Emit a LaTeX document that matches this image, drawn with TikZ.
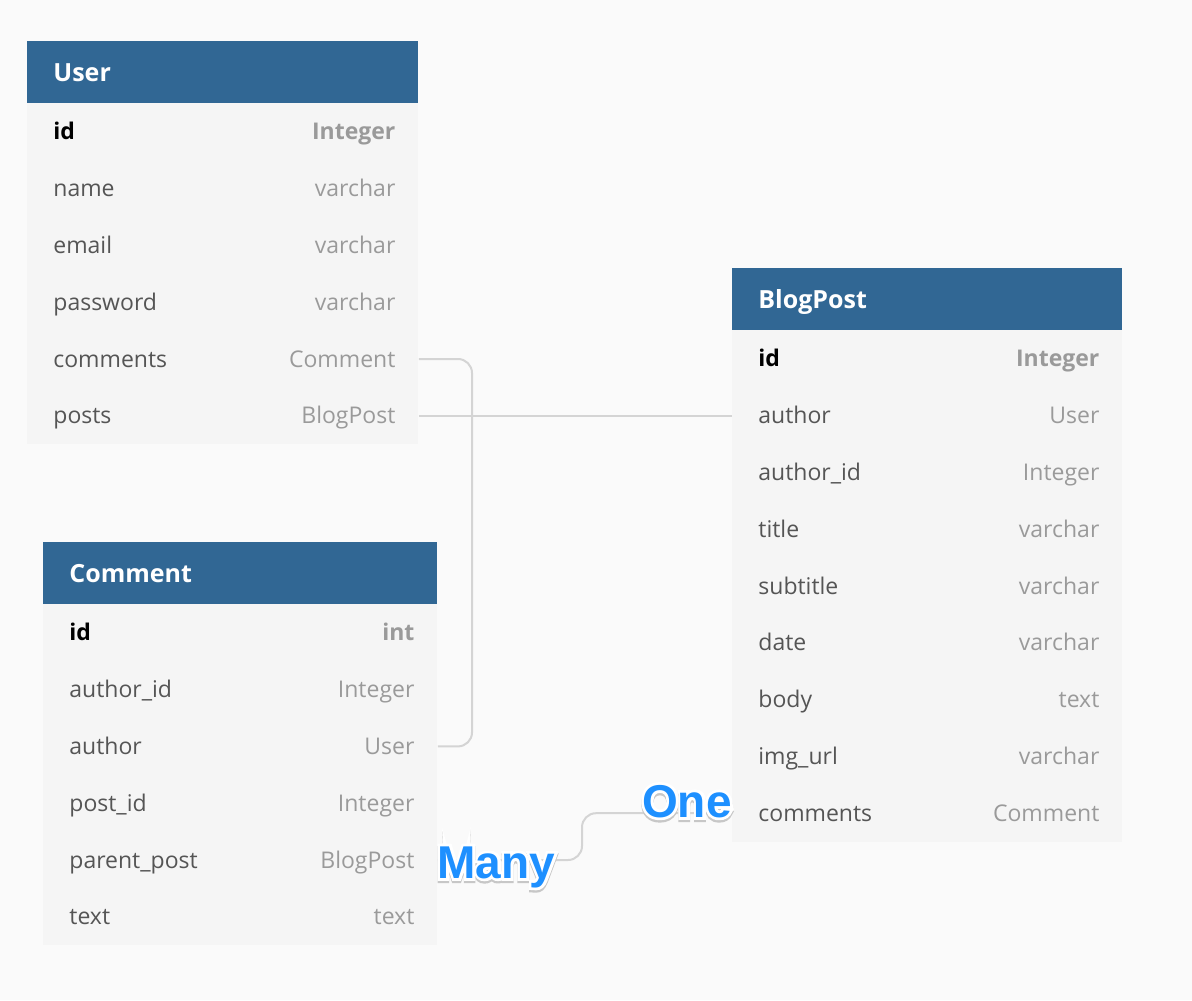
\documentclass[tikz,border=0pt]{standalone}
\usepackage{fontspec}
\setmainfont{Open Sans}
\newfontfamily\tagfamily{Liberation Sans Bold}
\newfontfamily\tagrim[FakeBold=12]{Liberation Sans Bold}
\usepackage{tikz}
\usetikzlibrary{positioning,calc}

\definecolor{headblue}{HTML}{316794}
\definecolor{rowgray}{HTML}{F5F5F5}
\definecolor{pagegray}{HTML}{FAFAFA}
\definecolor{fieldgray}{HTML}{555555}
\definecolor{typegray}{HTML}{9A9A9A}
\definecolor{linkgray}{HTML}{D4D4D4}
\definecolor{tagblue}{HTML}{1E90FF}

\tikzset{
  head/.style={fill=headblue, minimum height=31pt, inner sep=0pt, anchor=north west},
  headtext/.style={text=white, font=\bfseries\fontsize{12.5}{15}\selectfont, inner sep=0pt, text height=10pt, text depth=1pt, anchor=west},
  row/.style={fill=rowgray, minimum height=28.4pt, inner sep=0pt, anchor=north west},
  field/.style={text=fieldgray, font=\fontsize{11.5}{14}\selectfont, inner sep=0pt, text height=10pt, text depth=2pt, anchor=west},
  ftype/.style={field, text=typegray, anchor=east},
  keyfield/.style={field, text=black, font=\bfseries\fontsize{11.5}{14}\selectfont},
  keytype/.style={ftype, font=\bfseries\fontsize{11.5}{14}\selectfont},
  link/.style={draw=linkgray, line width=1pt, rounded corners=7pt},
  tag/.style={font=\tagfamily\fontsize{23}{26}\selectfont, inner sep=0pt, text=tagblue},
  tagedge/.style={tag, font=\tagrim\fontsize{23}{26}\selectfont, text=white}
}

\begin{document}
\begin{tikzpicture}[x=0.5pt,y=-0.5pt]
  \path[use as bounding box, fill=pagegray] (0,0) rectangle (1192,1000);

  % User table
  \node (user) [head, minimum width=195.5pt] at (27,41) {};
  \node (user-name) [headtext] at ($(user.west)+(26,0)$) {User};
  \node (user-1) [row, minimum width=195.5pt] at (27,103) {};
  \node (user-1-f) [keyfield] at ($(user-1.west)+(26,0)$) {id};
  \node (user-1-t) [keytype] at ($(user-1.east)+(-23,0)$) {Integer};
  \foreach \f/\t [count=\i from 2] in {name/varchar, email/varchar, password/varchar, comments/Comment, posts/BlogPost} {
    \node (user-\i) [row, minimum width=195.5pt] at (27,{103+56.8*(\i-1)}) {};
    \node (user-\i-f) [field] at ($(user-\i.west)+(26,0)$) {\f};
    \node (user-\i-t) [ftype] at ($(user-\i.east)+(-23,0)$) {\t};
  }

  % BlogPost table
  \node (post) [head, minimum width=195pt] at (732,268) {};
  \node (post-name) [headtext] at ($(post.west)+(26,0)$) {BlogPost};
  \node (post-1) [row, minimum width=195pt] at (732,330) {};
  \node (post-1-f) [keyfield] at ($(post-1.west)+(26,0)$) {id};
  \node (post-1-t) [keytype] at ($(post-1.east)+(-23,0)$) {Integer};
  \foreach \f/\t [count=\i from 2] in {author/User, author\_id/Integer, title/varchar, subtitle/varchar, date/varchar, body/text, img\_url/varchar, comments/Comment} {
    \node (post-\i) [row, minimum width=195pt] at (732,{330+56.8*(\i-1)}) {};
    \node (post-\i-f) [field] at ($(post-\i.west)+(26,0)$) {\f};
    \node (post-\i-t) [ftype] at ($(post-\i.east)+(-23,0)$) {\t};
  }

  % Comment table
  \node (comment) [head, minimum width=197pt] at (43,542) {};
  \node (comment-name) [headtext] at ($(comment.west)+(26,0)$) {Comment};
  \node (comment-1) [row, minimum width=197pt] at (43,604) {};
  \node (comment-1-f) [keyfield] at ($(comment-1.west)+(26,0)$) {id};
  \node (comment-1-t) [keytype] at ($(comment-1.east)+(-23,0)$) {int};
  \foreach \f/\t [count=\i from 2] in {author\_id/Integer, author/User, post\_id/Integer, parent\_post/BlogPost, text/text} {
    \node (comment-\i) [row, minimum width=197pt] at (43,{604+56.8*(\i-1)}) {};
    \node (comment-\i-f) [field] at ($(comment-\i.west)+(26,0)$) {\f};
    \node (comment-\i-t) [ftype] at ($(comment-\i.east)+(-23,0)$) {\t};
  }

  % connectors
  \coordinate (trunk) at (472,0);
  \coordinate (bend) at (582,0);
  \draw[link] (user-5.east) -- (user-5.east -| trunk) -- (comment-3.east -| trunk) -- (comment-3.east);
  \draw[link] (user-6.east) -- (user-6.east -| post-2.west);
  \draw[link] (comment-5.east) -- (comment-5.east -| bend) -- (post-9.west -| bend) -- (post-9.west);

  % Many / One tags
  \node (many-s) [tagedge, text=black!22, anchor=base west] at ($(437,878)+(0,-1.2pt)$) {Many};
  \node (one-s) [tagedge, text=black!22, anchor=base east] at ($(732,817)+(0,-1.2pt)$) {One};
  \node (many-h) [tagedge, anchor=base west] at (437,878) {Many};
  \node (one-h) [tagedge, anchor=base east] at (732,817) {One};
  \node (many) [tag, anchor=base west] at (many-h.base west) {Many};
  \node (one) [tag, anchor=base east] at (one-h.base east) {One};
\end{tikzpicture}
\end{document}
